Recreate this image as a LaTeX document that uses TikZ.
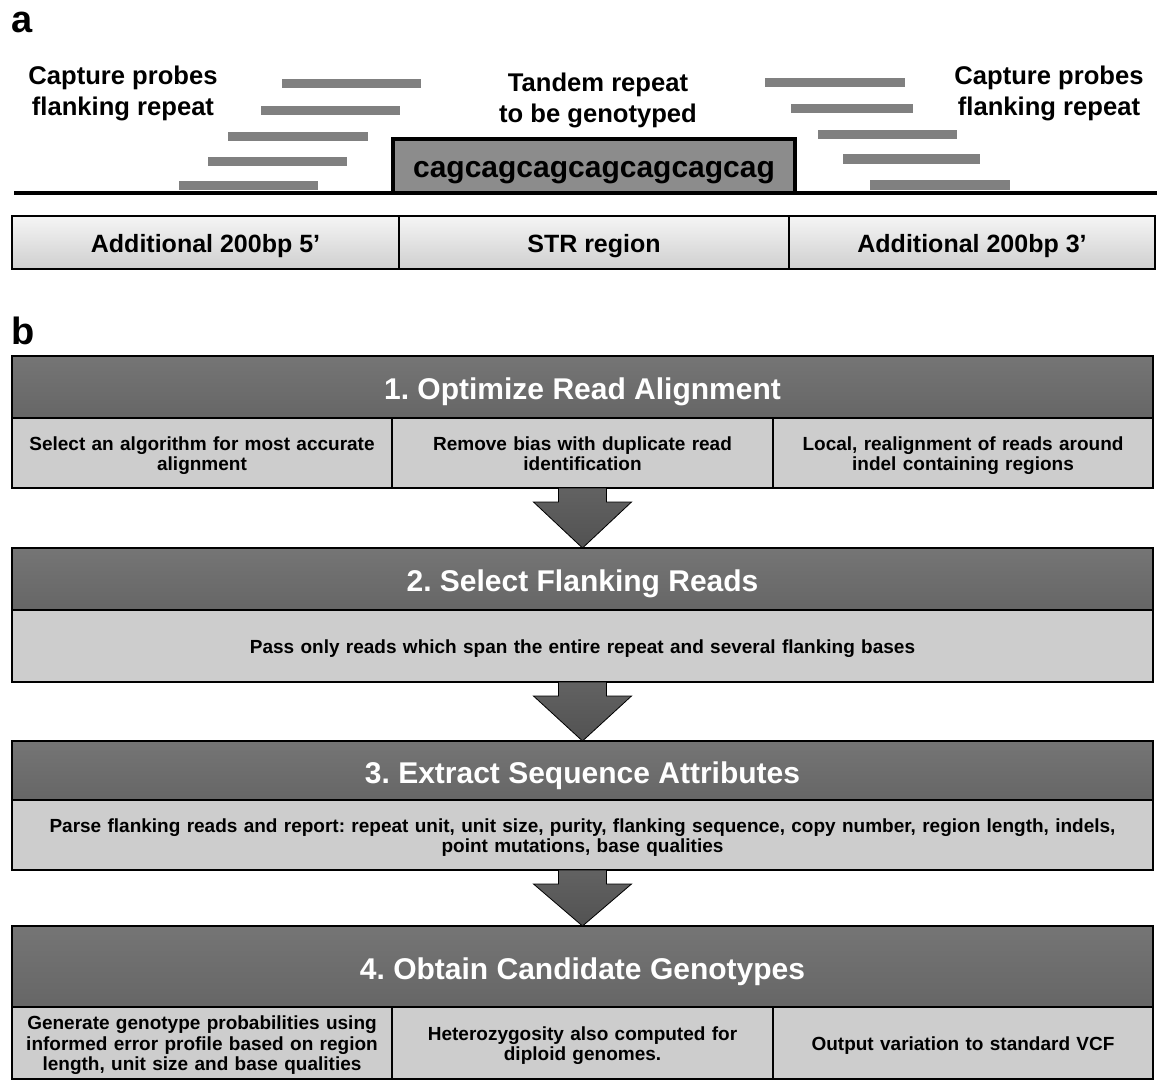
\documentclass[tikz,border=0pt]{standalone}
\usepackage{fontspec}
\setmainfont{Liberation Sans}
\usetikzlibrary{calc}
\definecolor{hdtop}{HTML}{757575}
\definecolor{hdbot}{HTML}{666666}
\definecolor{cellfill}{HTML}{CDCDCD}
\definecolor{probe}{HTML}{808080}
\definecolor{strfill}{HTML}{8C8C8C}
\definecolor{regtop}{HTML}{F5F5F5}
\definecolor{regbot}{HTML}{CFCFCF}
\definecolor{arrtop}{HTML}{626262}
\definecolor{arrbot}{HTML}{525252}
\newcommand\blockarrow[2]{%
  \path[blockarrowstyle] let \p1=(#1), \p2=(#2) in
   (\x1-24,\y1) -- (\x1+24,\y1) -- (\x1+24,\y1-14) -- (\x1+49,\y1-14) -- (\x2,\y2)
   -- (\x1-49,\y1-14) -- (\x1-24,\y1-14) -- cycle;}
\begin{document}
\frenchspacing
\begin{tikzpicture}[x=1pt,y=-1pt,
  every node/.style={outer sep=0pt},
  panellabel/.style={font=\bfseries\fontsize{38}{40}\selectfont, anchor=base west, inner sep=0pt},
  atext/.style={font=\bfseries\fontsize{25.6}{31}\selectfont, align=center, inner sep=0pt},
  probebar/.style={fill=probe},
  regcell/.style={draw=black, line width=1.5pt, top color=regtop, bottom color=regbot,
    anchor=north west, inner sep=0pt, minimum height=53pt, text height=19pt, text depth=0pt,
    font=\bfseries\fontsize{25}{30}\selectfont},
  header/.style={draw=black, line width=1.2pt, top color=hdtop, bottom color=hdbot,
    text=white, font=\bfseries\fontsize{30}{34}\selectfont, minimum width=1141pt,
    text height=26pt, text depth=1pt, anchor=north west, inner sep=0pt},
  cell/.style={draw=black, line width=1.2pt, fill=cellfill, anchor=north west, inner sep=0pt},
  celltext/.style={inner sep=0pt, align=center, font=\bfseries\fontsize{19}{20.5}\selectfont},
  blockarrowstyle/.style={draw=black, line width=0.8pt, top color=arrtop, bottom color=arrbot},
]
\useasboundingbox (0,0) rectangle (1157,1081);

% ---------------- panel a ----------------
\node[panellabel] (la) at (12,33) {a};

\node[atext] (capl) at (123,93) {Capture probes\\flanking repeat};
\node[atext] (tand) at (598,100) {Tandem repeat\\to be genotyped};
\node[atext] (capr) at (1049,93) {Capture probes\\flanking repeat};

% probes left
\fill[probebar] (282,79) rectangle (421,88);
\fill[probebar] (261,106) rectangle (400,115);
\fill[probebar] (228,132) rectangle (368,141);
\fill[probebar] (208,157) rectangle (347,166);
\fill[probebar] (179,181) rectangle (318,190);
% probes right
\fill[probebar] (765,78) rectangle (905,87);
\fill[probebar] (791,104) rectangle (913,113);
\fill[probebar] (818,130) rectangle (957,139);
\fill[probebar] (843,154) rectangle (980,164);
\fill[probebar] (870,180) rectangle (1010,190);

% genome line and STR box
\draw[line width=4pt] (14,193) -- (1157,193);
\draw[line width=4pt, fill=strfill] (393,139) rectangle (795,193);
\node[font=\bfseries\fontsize{30}{34}\selectfont, anchor=base, inner sep=0pt] (seq) at (594,177) {cagcagcagcagcagcagcag};

% region bar
\node[regcell, minimum width=387pt] (reg5) at (12,216) {Additional 200bp 5’};
\node[regcell, minimum width=390pt] (regstr) at (399,216) {STR region};
\node[regcell, minimum width=366pt] (reg3) at (789,216) {Additional 200bp 3’};

% ---------------- panel b ----------------
\node[panellabel] (lb) at (12,344) {b};

% box 1
\node[header, minimum height=62pt] (h1) at (12,356) {1. Optimize Read Alignment};
\node[cell, minimum width=380pt, minimum height=70pt] (c11) at (12,418) {};
\node[cell, minimum width=381pt, minimum height=70pt] (c12) at (392,418) {};
\node[cell, minimum width=380pt, minimum height=70pt] (c13) at (773,418) {};
\node[celltext, text width=370pt] (t11) at ($(c11.center)+(0,2.5)$)
  {Select an algorithm for most accurate\\alignment};
\node[celltext, text width=370pt] (t12) at ($(c12.center)+(0,2.5)$)
  {Remove bias with duplicate read\\identification\vphantom{g}};
\node[celltext, text width=370pt] (t13) at ($(c13.center)+(0,2.5)$)
  {Local, realignment of reads around\\indel containing regions};

% box 2
\node[header, minimum height=62pt] (h2) at (12,548) {2. Select Flanking Reads};
\node[cell, minimum width=1141pt, minimum height=72pt] (c2) at (12,610) {};
\node[celltext, text width=1120pt] (t2) at ($(c2.center)+(0,2.5)$)
  {Pass only reads which span the entire repeat and several flanking bases};

% box 3
\node[header, minimum height=59pt] (h3) at (12,741) {3. Extract Sequence Attributes};
\node[cell, minimum width=1141pt, minimum height=70pt] (c3) at (12,800) {};
\node[celltext, text width=1130pt] (t3) at ($(c3.center)+(0,2.5)$)
  {Parse flanking reads and report: repeat unit, unit size, purity, flanking sequence, copy number, region length, indels,\\point mutations, base qualities};

% box 4
\node[header, minimum height=81pt] (h4) at (12,926) {4. Obtain Candidate Genotypes};
\node[cell, minimum width=380pt, minimum height=72pt] (c41) at (12,1007) {};
\node[cell, minimum width=381pt, minimum height=72pt] (c42) at (392,1007) {};
\node[cell, minimum width=380pt, minimum height=72pt] (c43) at (773,1007) {};
\node[celltext, text width=370pt] (t41) at ($(c41.center)+(0,2.5)$)
  {Generate genotype probabilities using\\informed error profile based on region\\length, unit size and base qualities};
\node[celltext, text width=370pt] (t42) at ($(c42.center)+(0,2.5)$)
  {Heterozygosity also computed for\\diploid genomes.};
\node[celltext, text width=370pt] (t43) at ($(c43.center)+(0,2.5)$)
  {Output variation to standard VCF};

% arrows
\blockarrow{c12.south}{h2.north}
\blockarrow{c2.south}{h3.north}
\blockarrow{c3.south}{h4.north}
\end{tikzpicture}
\end{document}
